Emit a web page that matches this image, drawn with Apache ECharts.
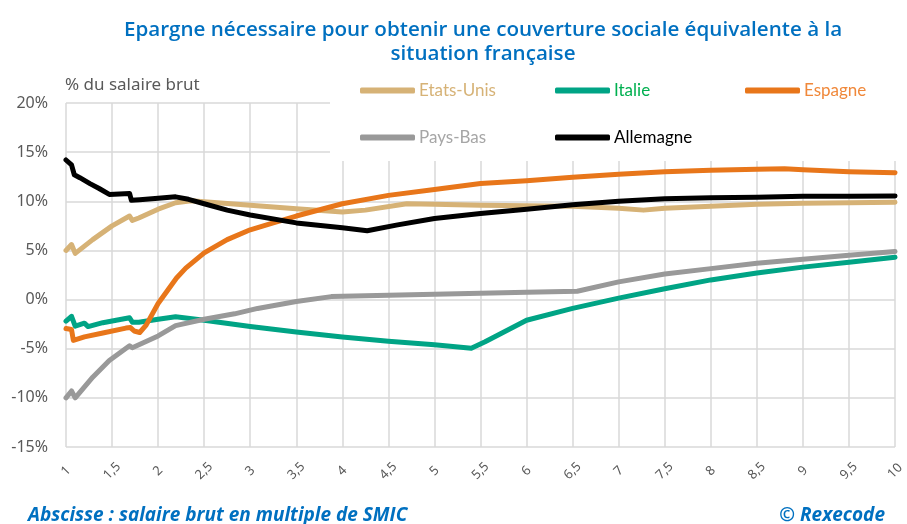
<!DOCTYPE html>
<html>
<head>
<meta charset="utf-8">
<script src="https://cdn.jsdelivr.net/npm/echarts@6/dist/echarts.min.js"></script>
<style>
html,body{margin:0;padding:0;background:#fff;}
#chart{width:907px;height:524px;}
</style>
</head>
<body>
<div id="chart"></div>
<script>
// ---- Data (x = salaire brut en multiple de SMIC, y = % du salaire brut) ----
var seriesNames = ['Etats-Unis', 'Italie', 'Espagne', 'Pays-Bas', 'Allemagne'];
var xTickLabels = ['1','1,5','2','2,5','3','3,5','4','4,5','5','5,5','6','6,5','7','7,5','8','8,5','9','9,5','10'];
var yTickLabels = ['-15%','-10%','-5%','0%','5%','10%','15%','20%'];

var usX = [1.0, 1.06, 1.1, 1.29, 1.5, 1.69, 1.72, 1.79, 2.0, 2.19, 2.36, 2.5, 3.0, 3.5, 4.0, 4.25, 4.7, 5.0, 5.5, 6.0, 6.5, 7.0, 7.27, 7.5, 8.0, 8.5, 9.0, 9.5, 10];
var usY = [5.0, 5.6, 4.7, 6.1, 7.5, 8.5, 8.05, 8.3, 9.2, 9.85, 10.05, 9.95, 9.6, 9.25, 8.9, 9.1, 9.75, 9.7, 9.6, 9.55, 9.5, 9.3, 9.1, 9.3, 9.5, 9.7, 9.8, 9.85, 9.9];

var itX = [1.0, 1.06, 1.1, 1.2, 1.24, 1.4, 1.69, 1.72, 1.79, 2.0, 2.19, 2.5, 3.0, 3.5, 4.0, 4.5, 5.0, 5.4, 5.55, 6.0, 6.5, 7.0, 7.5, 8.0, 8.5, 9.0, 9.5, 10];
var itY = [-2.2, -1.7, -2.7, -2.4, -2.75, -2.35, -1.85, -2.3, -2.3, -2.0, -1.75, -2.1, -2.75, -3.3, -3.8, -4.25, -4.6, -4.95, -4.3, -2.1, -0.9, 0.15, 1.1, 2.0, 2.7, 3.3, 3.8, 4.3];

var esX = [1.0, 1.06, 1.08, 1.2, 1.4, 1.65, 1.7, 1.74, 1.8, 1.87, 2.0, 2.1, 2.2, 2.3, 2.5, 2.75, 3.0, 3.25, 3.5, 4.0, 4.5, 5.0, 5.5, 6.0, 6.5, 7.0, 7.5, 8.0, 8.5, 8.8, 9.0, 9.5, 10];
var esY = [-2.95, -3.05, -4.15, -3.8, -3.4, -2.9, -2.85, -3.2, -3.35, -2.6, -0.4, 0.9, 2.2, 3.2, 4.75, 6.1, 7.1, 7.8, 8.5, 9.75, 10.6, 11.2, 11.8, 12.1, 12.45, 12.75, 13.0, 13.15, 13.25, 13.3, 13.2, 13.0, 12.9];

var nlX = [1.0, 1.06, 1.1, 1.29, 1.47, 1.69, 1.72, 2.0, 2.19, 2.5, 2.83, 3.08, 3.5, 3.88, 4.5, 5.0, 5.5, 6.0, 6.55, 7.0, 7.5, 8.0, 8.5, 9.0, 9.5, 10];
var nlY = [-10.0, -9.3, -10.0, -7.9, -6.2, -4.7, -4.9, -3.7, -2.65, -2.0, -1.45, -0.9, -0.2, 0.3, 0.45, 0.55, 0.65, 0.75, 0.85, 1.8, 2.6, 3.15, 3.7, 4.1, 4.5, 4.9];

var deX = [1.0, 1.06, 1.09, 1.15, 1.26, 1.36, 1.47, 1.69, 1.71, 1.8, 2.0, 2.19, 2.33, 2.5, 2.75, 3.0, 3.5, 4.0, 4.27, 4.6, 5.0, 5.5, 6.0, 6.5, 7.0, 7.5, 8.0, 8.5, 9.0, 9.5, 10];
var deY = [14.2, 13.7, 12.7, 12.4, 11.8, 11.3, 10.7, 10.8, 10.1, 10.15, 10.3, 10.45, 10.2, 9.75, 9.1, 8.6, 7.8, 7.3, 7.0, 7.6, 8.25, 8.75, 9.2, 9.65, 10.0, 10.25, 10.35, 10.4, 10.5, 10.5, 10.55];

// ---- Styles ----
var lineColors = ['#D6B276', '#00A485', '#E8761A', '#999999', '#000000'];
var legendTextColors = ['#D6B276', '#00B050', '#F0883A', '#A6A6A6', '#000000'];

function zip(xs, ys) { return xs.map(function (x, i) { return [x, ys[i]]; }); }
var seriesData = [zip(usX, usY), zip(itX, itY), zip(esX, esY), zip(nlX, nlY), zip(deX, deY)];

var chart = echarts.init(document.getElementById('chart'), null, { renderer: 'canvas' });

var legendPos = [[360, 82], [555, 82], [745, 82], [360, 129], [555, 129]];
var legends = seriesNames.map(function (n, i) {
  return {
    data: [n], left: legendPos[i][0], top: legendPos[i][1],
    icon: 'roundRect', itemWidth: 55, itemHeight: 6, itemGap: 0,
    padding: 0,
    textStyle: { color: legendTextColors[i], fontSize: 17, fontFamily: 'Lato', padding: [0, 0, 0, -1] },
    selectedMode: false
  };
});

var option = {
  backgroundColor: '#ffffff',
  animation: false,
  title: {
    text: 'Epargne nécessaire pour obtenir une couverture sociale équivalente à la\nsituation française',
    left: 478, top: 13, textAlign: 'center',
    textStyle: { color: '#0070C0', fontSize: 20.6, fontWeight: 600, fontFamily: 'Open Sans', lineHeight: 24 }
  },
  legend: legends,
  grid: { left: 66, right: 2, top: 103, bottom: 77, containLabel: false },
  graphic: [
    { type: 'rect', shape: { x: 330, y: 70, width: 577, height: 91 }, style: { fill: '#ffffff' }, z: 1, silent: true },
    { type: 'text', left: 65, top: 77, style: { text: '% du salaire brut', fill: '#595959', font: '17px "Noto Sans"' }, z: 5 },
    { type: 'text', left: 28, top: 506, style: { text: 'Abscisse : salaire brut en multiple de SMIC', fill: '#0070C0', font: 'italic bold 19px "Open Sans"' } },
    { type: 'text', right: 22, top: 506, style: { text: '© Rexecode', fill: '#0070C0', font: 'italic bold 19px "Open Sans"' } }
  ],
  xAxis: {
    type: 'value', min: 1, max: 10, interval: 0.5,
    axisLine: { show: false }, axisTick: { show: false },
    splitLine: { show: true, lineStyle: { color: '#D9D9D9', width: 1.5 } },
    axisLabel: {
      rotate: 45, align: 'center', verticalAlign: 'middle', margin: 24,
      color: '#595959', fontSize: 13, fontFamily: 'Noto Sans',
      showMinLabel: true, showMaxLabel: true,
      formatter: function (v) { return xTickLabels[Math.round((v - 1) / 0.5)]; }
    }
  },
  yAxis: {
    type: 'value', min: -15, max: 20, interval: 5,
    axisLine: { show: false }, axisTick: { show: false },
    splitLine: { show: true, lineStyle: { color: '#D9D9D9', width: 1.5 } },
    axisLabel: {
      margin: 18, color: '#595959', fontSize: 16, fontFamily: 'Noto Sans',
      formatter: function (v) { return yTickLabels[Math.round((v + 15) / 5)]; }
    }
  },
  series: seriesNames.map(function (n, i) {
    return {
      name: n, type: 'line', data: seriesData[i], showSymbol: false, symbol: 'none',
      lineStyle: { color: lineColors[i], width: 5, join: 'round', cap: 'round' },
      itemStyle: { color: lineColors[i] },
      z: 2 + (i === 4 ? 1 : 0)
    };
  })
};
chart.setOption(option);
</script>
</body>
</html>
